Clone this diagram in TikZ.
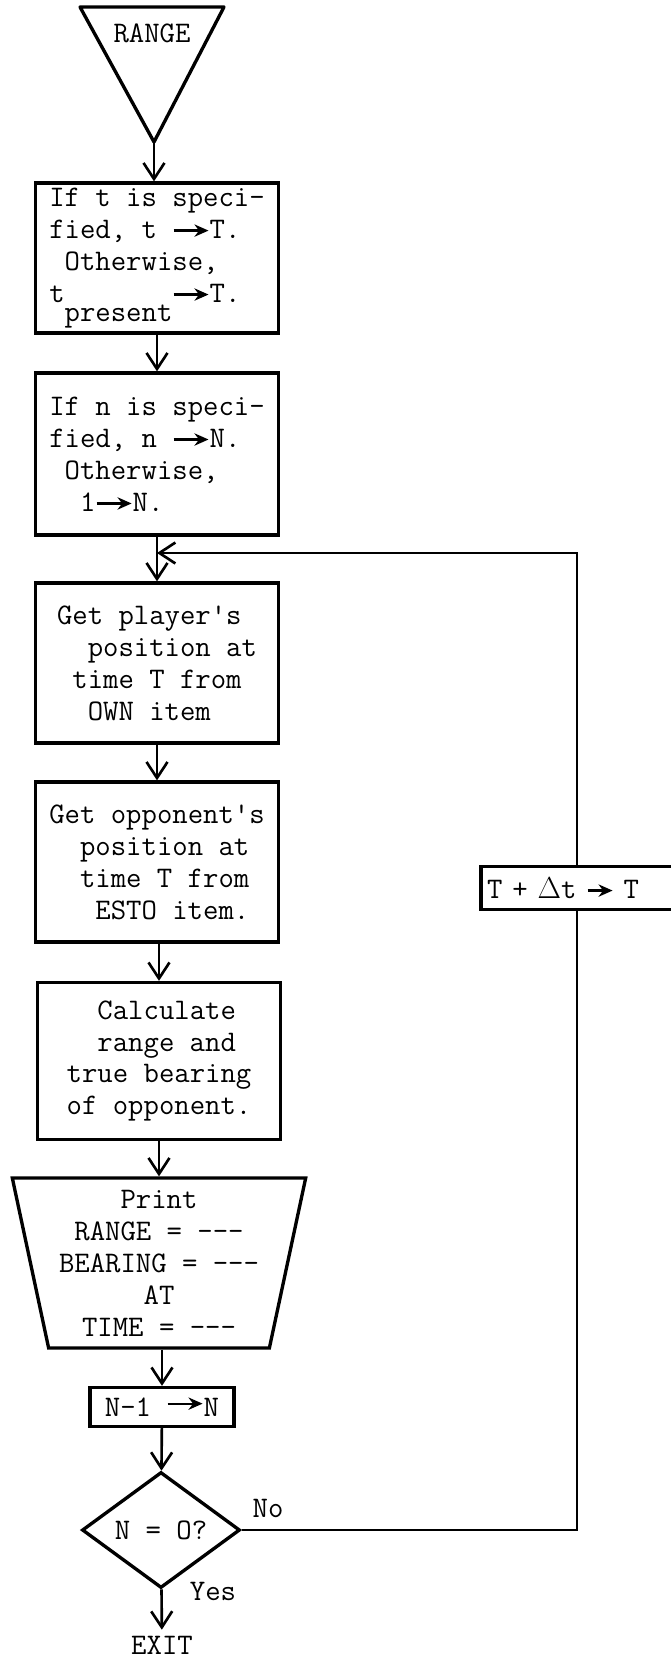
\documentclass[tikz,border=0pt]{standalone}
\usepackage{fontspec}
\usetikzlibrary{shapes.geometric,arrows.meta}

% small arrow used inside the texts
\newcommand{\ra}[1][0.7cm]{\tikz[baseline=-0.6ex]\draw[line width=1.3pt,-{Stealth[length=8pt,width=7pt]}] (0,0) -- (#1,0);}

\begin{document}
\begin{tikzpicture}[x=0.02cm,y=-0.02cm,>={Straight Barb[length=0.32cm,width=0.42cm]},
  every node/.style={font=\fontsize{17}{18.2}\selectfont\ttfamily},
  box/.style={draw,rectangle,line width=1.9pt,minimum width=4.86cm,inner sep=2pt,align=left},
  flow/.style={line width=1.5pt}]
 \useasboundingbox (0,0) rectangle (671,1659);
 % entry
 \draw[line width=1.9pt,line join=round] (80,7) -- (224,7) -- (154,142) -- cycle;
 \coordinate (apex) at (154,142);
 \node (start) at (152,33) {RANGE};
 % main column
 \node[box,minimum height=3.0cm] (tspec) at (157,258)
  {If t is speci-\\fied, t \ra T.\\\phantom{x}Otherwise,\\t\raisebox{-0.6\baselineskip}{present}\ra T.};
 \node[box,minimum height=3.24cm] (nspec) at (157,454)
  {If n is speci-\\fied, n \ra N.\\\phantom{x}Otherwise,\\\phantom{xx}1\ra N.};
 \node[box,minimum height=3.2cm] (own) at (157,663)
  {Get player\textquotesingle s\\\phantom{xx}position at\\\phantom{x}time T from\\\phantom{xx}OWN item};
 \node[box,minimum height=3.2cm] (esto) at (157,862)
  {Get opponent\textquotesingle s\\\phantom{xx}position at\\\phantom{xx}time T from\\\phantom{xxx}ESTO item.};
 \node[box,minimum height=3.14cm] (calc) at (159,1061)
  {\phantom{xx}Calculate\\\phantom{xx}range and\\true bearing\\of opponent.};
 \node[draw,line width=1.9pt,trapezium,trapezium angle=77.4,trapezium stretches=true,
  shape border rotate=180,minimum width=5.88cm,minimum height=3.4cm,inner sep=1pt,align=center] (print) at (159,1263)
  {Print\\RANGE = -{}-{}-\\BEARING = -{}-{}-\\AT\\TIME = -{}-{}-};
 \node[box,minimum width=2.88cm,minimum height=0.78cm] (decr) at (162,1407)
  {N-1 \raisebox{0.4ex}{\ra}N};
 \node[draw,diamond,line width=1.9pt,aspect=1.36,minimum width=3.16cm,minimum height=2.32cm,inner sep=1pt] (test) at (161,1530) {N = O?};
 \node (exit) at (162,1645) {EXIT};
 \node (no) at (268,1508) {No};
 \node (yes) at (213,1591) {Yes};
 % loop back
 \node[box,minimum width=0pt,text width=3.6cm,inner xsep=0.12cm,minimum height=0.86cm] (tstep) at (577,888)
  {T + $\Delta$t \ra[0.5cm]\ T};
 \coordinate (join) at (157,553);
 % connectors
 \draw[flow,->] (apex) -- (apex |- tspec.north);
 \draw[flow,->] (tspec) -- (nspec);
 \draw[flow,->] (nspec) -- (own);
 \draw[flow,->] (own) -- (esto);
 \draw[flow,->] (esto.south -| calc) -- (calc);
 \draw[flow,->] (calc.south) -- (print.north -| calc.south);
 \draw[flow,->] (print.south -| decr) -- (decr);
 \draw[flow,->] (decr) -- (test);
 \draw[flow,->] (test) -- (exit);
 \draw[flow] (test.east) -| (tstep.south);
 \draw[flow,->] (tstep.north) |- (join);
\end{tikzpicture}
\end{document}
